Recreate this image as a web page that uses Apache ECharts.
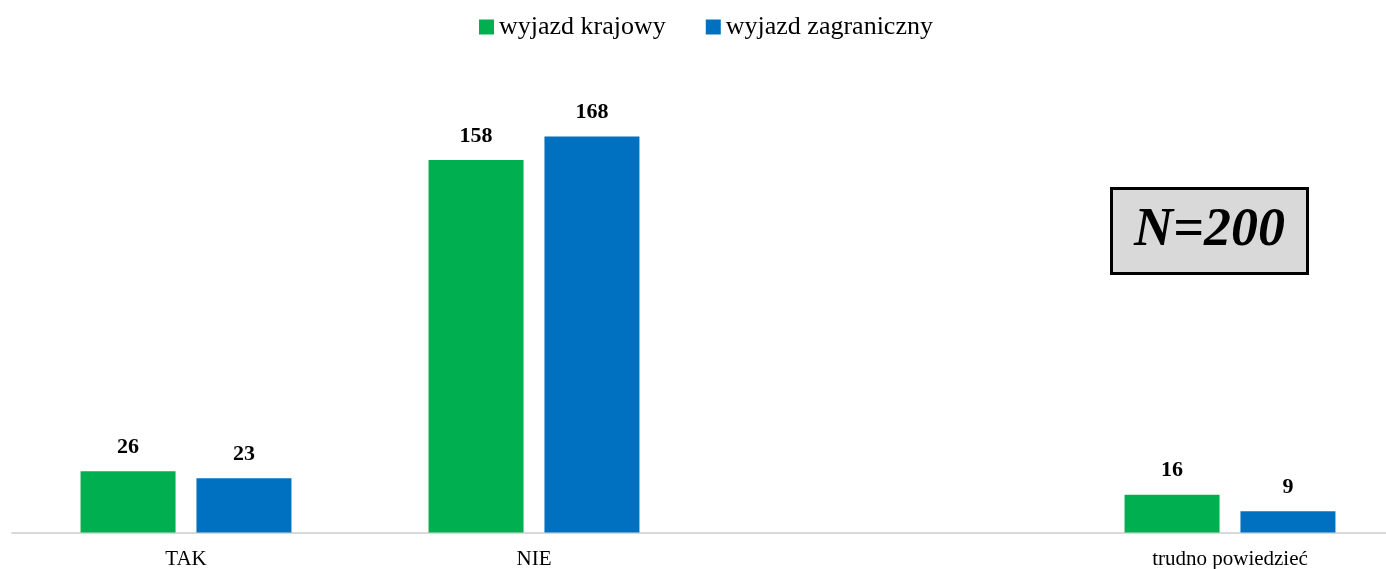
<!DOCTYPE html>
<html>
<head>
<meta charset="utf-8">
<script src="https://cdn.jsdelivr.net/npm/echarts@6/dist/echarts.min.js"></script>
<style>
  html, body { margin: 0; padding: 0; background: #fff; }
  #chart { width: 1386px; height: 569px; }
</style>
</head>
<body>
<div id="chart"></div>
<script>
// dane
var categories = ['TAK', 'NIE', '', 'trudno powiedzieć'];
var krajowy = [26, 158, null, 16];
var zagraniczny = [23, 168, null, 9];
var seriesNames = ['wyjazd krajowy', 'wyjazd zagraniczny'];
var sampleLabel = 'N=200';

var serif = '"Liberation Serif", "DejaVu Serif", serif';

var myChart = echarts.init(document.getElementById('chart'));

var labelStyle = {
    show: true,
    position: 'top',
    distance: 13,
    fontFamily: serif,
    fontWeight: 'bold',
    fontSize: 22,
    color: '#000'
};

var option = {
    backgroundColor: '#fff',
    animation: false,
    legend: {
        top: 9,
        left: 474,
        itemWidth: 15,
        itemHeight: 15,
        itemGap: 40,
        icon: 'rect',
        textStyle: { fontFamily: serif, fontSize: 26, color: '#000' },
        data: seriesNames
    },
    // siatka szersza niz okno - w oryginale wykres jest przyciety z prawej
    grid: {
        left: 12,
        top: 61,
        width: 1392,
        height: 471.5,
        outerBoundsMode: 'none'
    },
    xAxis: {
        type: 'category',
        data: categories,
        axisTick: { show: false },
        axisLine: { lineStyle: { color: '#d9d9d9', width: 2 } },
        axisLabel: {
            interval: 0,
            margin: 16,
            fontFamily: serif,
            fontSize: 21,
            color: '#000'
        }
    },
    yAxis: {
        type: 'value',
        min: 0,
        max: 200,
        show: false,
        splitLine: { show: false }
    },
    series: [
        {
            name: seriesNames[0],
            type: 'bar',
            data: krajowy,
            barWidth: 95,
            barGap: '22%',
            itemStyle: { color: '#00b050' },
            label: labelStyle
        },
        {
            name: seriesNames[1],
            type: 'bar',
            data: zagraniczny,
            barWidth: 95,
            itemStyle: { color: '#0070c0' },
            label: labelStyle
        }
    ],
    graphic: [
        {
            type: 'group',
            left: 1110,
            top: 187,
            children: [
                {
                    type: 'rect',
                    shape: { x: 0, y: 0, width: 196, height: 85 },
                    style: { fill: '#d9d9d9', stroke: '#000', lineWidth: 3 }
                },
                {
                    type: 'text',
                    x: 98,
                    y: 43,
                    style: {
                        text: sampleLabel,
                        fontFamily: serif,
                        fontStyle: 'italic',
                        fontWeight: 'bold',
                        fontSize: 54,
                        fill: '#000',
                        align: 'center',
                        verticalAlign: 'middle'
                    }
                }
            ]
        }
    ]
};

myChart.setOption(option);
</script>
</body>
</html>
